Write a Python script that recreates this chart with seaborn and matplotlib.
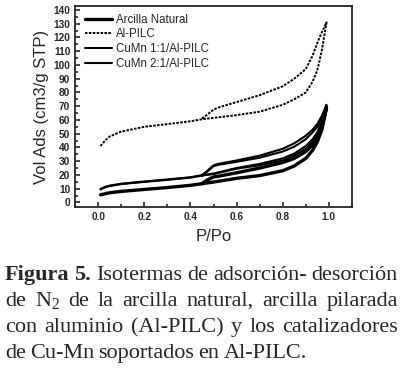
import matplotlib
matplotlib.use("Agg")
import matplotlib.pyplot as plt
import seaborn as sns
from matplotlib.ticker import MultipleLocator

# relative pressure P/Po (adsorption branch, then desorption branch going back)
p_ads = [0.01, 0.03, 0.05, 0.1, 0.2, 0.3, 0.4, 0.45, 0.5, 0.6, 0.7, 0.8, 0.85, 0.9, 0.93, 0.95, 0.97, 0.99]
p_des = [0.99, 0.97, 0.95, 0.93, 0.9, 0.85, 0.8, 0.7, 0.6, 0.52, 0.5, 0.47, 0.45]

# volume adsorbed (cm3/g STP)
natural_ads = [5.5, 6.3, 7, 8, 9.4, 10.8, 12.4, 13.6, 14.8, 17.5, 19.5, 23, 26.5, 32, 38, 44, 53, 69]
natural_des = [69, 55, 47, 42, 37, 32, 29, 25, 21.5, 19, 18.5, 16, 13.6]

alpilc_ads = [41, 45, 48, 51.5, 55, 57, 59, 60.5, 61.5, 63.5, 66, 71, 75, 80, 88, 96, 111, 131]
alpilc_des = [131, 124, 116, 107, 97, 90, 84.5, 78, 73, 69, 67.5, 63.5, 61]

cumn11_ads = [9.8, 11.3, 12.2, 13.6, 15.2, 16.7, 18.3, 19.8, 21, 25, 28, 32, 35.5, 41, 46, 51, 59, 71]
cumn11_des = [71, 63, 57, 53, 48.5, 43, 39, 34, 30.5, 28, 27, 22.5, 19.8]

cumn21_ads = [9.4, 11, 11.9, 13.3, 14.9, 16.4, 18, 19.5, 20.6, 24.5, 27, 30.5, 34, 39, 44, 49, 57, 70]
cumn21_des = [70, 61.5, 55, 51, 46, 40.5, 37, 32.5, 29.5, 27.3, 26.3, 22, 19.5]

labels = ["Arcilla Natural", "Al-PILC", "CuMn 1:1/Al-PILC", "CuMn 2:1/Al-PILC"]

# caption, one list per printed line (bold words marked with *)
caption_lines = [
    ["*Figura", "*5.", "Isotermas", "de", "adsorción-", "desorción"],
    ["de", "N$_2$", "de", "la", "arcilla", "natural,", "arcilla", "pilarada"],
    ["con", "aluminio", "(Al-PILC)", "y", "los", "catalizadores"],
    ["de", "Cu-Mn", "soportados", "en", "Al-PILC."],
]

sns.set_style("ticks")
plt.rcParams["font.family"] = ["Liberation Sans", "DejaVu Sans"]
plt.rcParams["mathtext.fontset"] = "custom"
plt.rcParams["mathtext.rm"] = "Liberation Serif"

W, H = 404, 368
fig = plt.figure(figsize=(W / 100, H / 100), dpi=100)
ax = fig.add_axes([0.186, 0.437, 0.685, 0.547])

series = [
    (natural_ads, natural_des, "-", 2.4),
    (alpilc_ads, alpilc_des, (0, (1.3, 0.7)), 1.4),
    (cumn11_ads, cumn11_des, "-", 1.5),
    (cumn21_ads, cumn21_des, "-", 1.5),
]
for label, (ads, des, ls, lw) in zip(labels, series):
    sns.lineplot(x=p_ads + p_des, y=ads + des, sort=False, estimator=None,
                 color="black", linestyle=ls, linewidth=lw, label=label, ax=ax)

ax.set_xlim(-0.1, 1.1)
ax.set_ylim(-3.5, 143)
ax.xaxis.set_major_locator(MultipleLocator(0.2))
ax.xaxis.set_minor_locator(MultipleLocator(0.1))
ax.yaxis.set_major_locator(MultipleLocator(10))
ax.yaxis.set_minor_locator(MultipleLocator(5))
ax.tick_params(which="both", direction="in", width=1.2, labelsize=7.3)
ax.tick_params(which="major", length=3.5)
ax.tick_params(which="minor", length=2)
for lab in ax.get_xticklabels() + ax.get_yticklabels():
    lab.set_fontweight("bold")
for sp in ax.spines.values():
    sp.set_linewidth(1.3)

ax.set_xlabel("P/Po", fontsize=12, labelpad=5)
ax.set_ylabel("Vol Ads (cm3/g STP)", fontsize=12, labelpad=3)

ax.legend(loc="upper left", frameon=False, fontsize=8.3, handlelength=2.35,
          handletextpad=0.35, labelspacing=0.22, borderaxespad=0.3,
          bbox_to_anchor=(0.005, 1.0))

# caption: justified lines, last one left aligned
cap_size = 16
x_left, x_right = 5, 398
fig.canvas.draw()
renderer = fig.canvas.get_renderer()
for i, words in enumerate(caption_lines):
    y = 1 - (275 + 26.2 * i) / H
    texts = []
    for w in words:
        bold = w.startswith("*")
        texts.append(fig.text(0, y, w.lstrip("*"), fontsize=cap_size,
                              fontweight="bold" if bold else "normal",
                              family="Liberation Serif", va="center"))
    widths = [t.get_window_extent(renderer).width for t in texts]
    if i < len(caption_lines) - 1:
        gap = (x_right - x_left - sum(widths)) / (len(words) - 1)
    else:
        gap = 4.2
    x = x_left
    for t, w in zip(texts, widths):
        t.set_x(x / W)
        x += w + gap

fig.savefig("out.png", dpi=100)
